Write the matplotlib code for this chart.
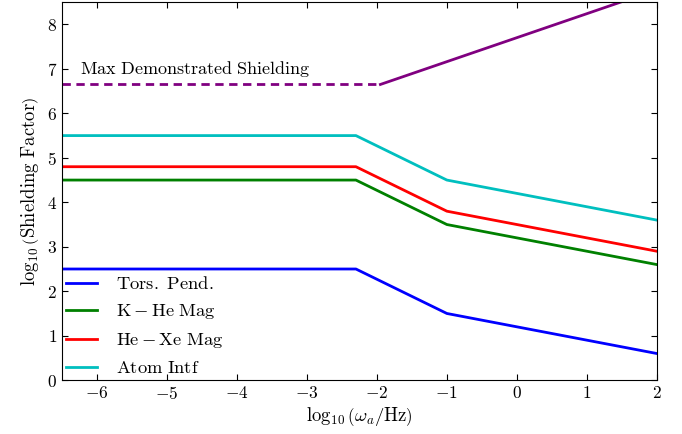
import matplotlib
matplotlib.use("Agg")
import matplotlib.pyplot as plt

plt.rcParams['mathtext.fontset'] = 'cm'
plt.rcParams['font.family'] = 'serif'
plt.rcParams['font.serif'] = ['cmr10', 'DejaVu Serif']
plt.rcParams['axes.formatter.use_mathtext'] = True

x_flat = [-6.5, -2.3, -1.0, 2.0]
tors = [2.5, 2.5, 1.5, 0.6]
khe = [4.5, 4.5, 3.5, 2.6]
hexe = [4.8, 4.8, 3.8, 2.9]
atom = [5.5, 5.5, 4.5, 3.6]
max_dash_x = [-6.5, -2.0]
max_dash_y = [6.65, 6.65]
max_solid_x = [-1.95, 2.0]
max_solid_y = [6.65, 8.78]

fig = plt.figure(figsize=(6.82, 4.34), dpi=100)
ax = fig.add_axes([0.091, 0.124, 0.872, 0.871])

ax.plot(x_flat, tors, color='b', lw=2, label=r'$\mathrm{Tors.\ Pend.}$')
ax.plot(x_flat, khe, color='g', lw=2, label=r'$\mathrm{K-He\ Mag}$')
ax.plot(x_flat, hexe, color='r', lw=2, label=r'$\mathrm{He-Xe\ Mag}$')
ax.plot(x_flat, atom, color='c', lw=2, label=r'$\mathrm{Atom\ Intf}$')
ax.plot(max_dash_x, max_dash_y, color='purple', lw=2, ls=(0, (3, 2)))
ax.plot(max_solid_x, max_solid_y, color='purple', lw=2)
ax.text(-6.24, 7.0, r'$\mathrm{Max\ Demonstrated\ Shielding}$', fontsize=13, va='center', ha='left')

ax.set_xlim(-6.5, 2)
ax.set_ylim(0, 8.5)
ax.set_xticks(range(-6, 3))
ax.set_yticks(range(0, 9))
ax.tick_params(direction='in', top=True, right=True, labelsize=12.5, length=4)
ax.set_xlabel(r'$\log_{10}\left(\omega_a/\mathrm{Hz}\right)$', fontsize=13.5, labelpad=2)
ax.set_ylabel(r'$\log_{10}\left(\mathrm{Shielding\ Factor}\right)$', fontsize=13.5, labelpad=4)

ax.legend(loc='lower left', frameon=False, fontsize=13.3, handlelength=1.7,
          borderaxespad=0.0, borderpad=0.2, labelspacing=0.55, handletextpad=1.0)

fig.savefig('out.png', dpi=100)
